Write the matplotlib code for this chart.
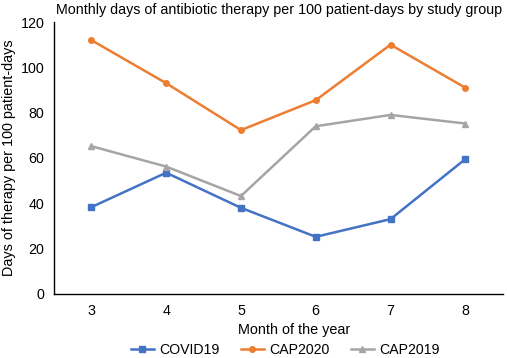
import matplotlib
matplotlib.use("Agg")
import matplotlib.pyplot as plt

plt.rcParams['font.family'] = ['Liberation Sans', 'DejaVu Sans']

months = ["3", "4", "5", "6", "7", "8"]
covid19 = [38.3, 53.5, 38.0, 25.2, 33.0, 59.5]
cap2020 = [112.0, 93.0, 72.3, 85.5, 110.0, 91.0]
cap2019 = [65.2, 56.2, 43.2, 74.0, 79.0, 75.2]

fig = plt.figure(figsize=(5.07, 3.58), dpi=100)
ax = fig.add_axes([0.1065, 0.179, 0.885, 0.7595])
x = list(range(len(months)))
ax.plot(x, covid19, color="#4472C4", marker="s", markersize=4, linewidth=1.8, label="COVID19")
ax.plot(x, cap2020, color="#ED7D31", marker="o", markersize=4, linewidth=1.8, label="CAP2020")
ax.plot(x, cap2019, color="#A5A5A5", marker="^", markersize=4.5, linewidth=1.8, label="CAP2019")

ax.set_xlim(-0.5, len(months) - 0.5)
ax.set_ylim(0, 120)
ax.set_yticks(range(0, 121, 20))
ax.set_xticks(x)
ax.set_xticklabels(months)
ax.tick_params(length=0, labelsize=10.3, pad=7)
for s in ["top", "right"]:
    ax.spines[s].set_visible(False)
for s in ["left", "bottom"]:
    ax.spines[s].set_color("black")
    ax.spines[s].set_linewidth(1.0)

ax.set_xlabel("Month of the year", fontsize=10.4, labelpad=4)
ax.xaxis.label.set_x(0.535)
ax.set_ylabel("Days of therapy per 100 patient-days", fontsize=10.4, labelpad=3)
fig.text(0.550, 0.972, "Monthly days of antibiotic therapy per 100 patient-days by study group",
         ha="center", va="center", fontsize=10.3)

fig.legend(loc="center", bbox_to_anchor=(0.563, 0.022), ncol=3, frameon=False,
           fontsize=10.2, handlelength=1.6, handletextpad=0.4, columnspacing=1.5,
           borderpad=0, borderaxespad=0)

fig.savefig("out.png", dpi=100)
